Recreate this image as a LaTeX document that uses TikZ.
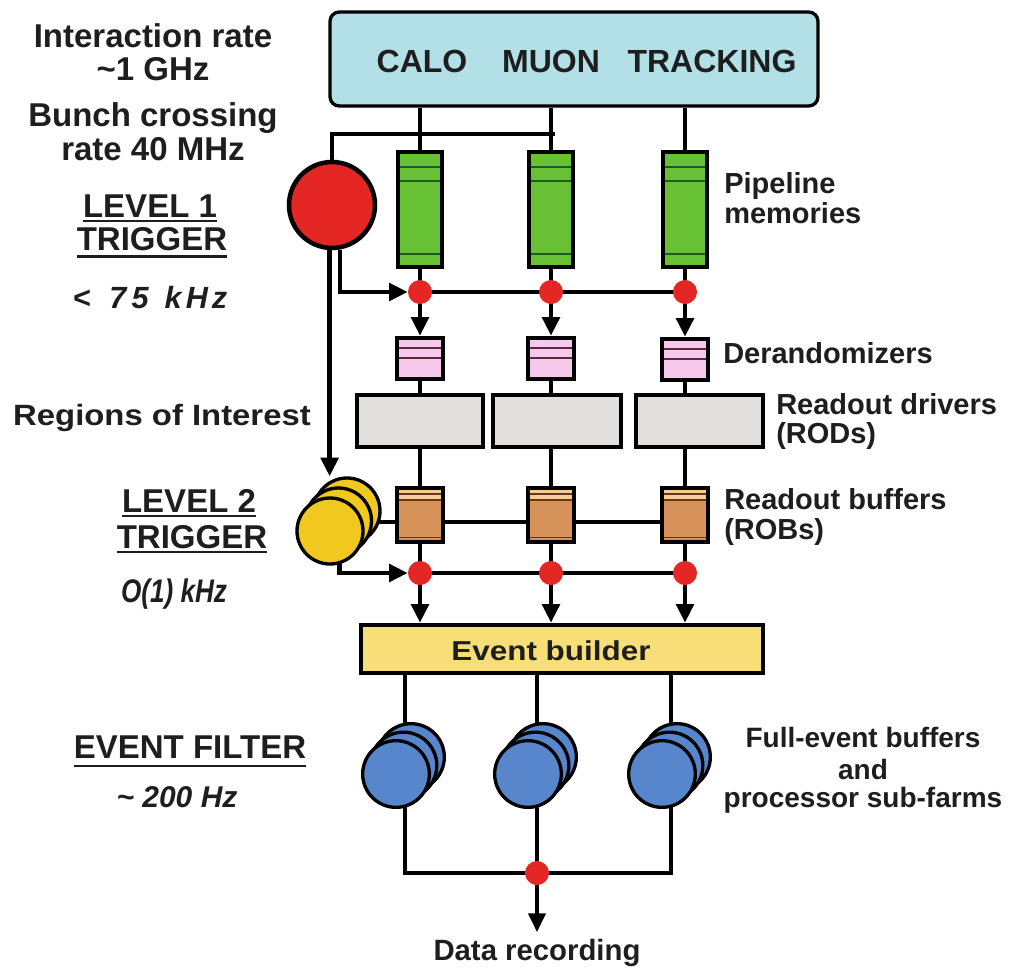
\documentclass[tikz,border=0pt]{standalone}
\usepackage{fontspec}
\usepackage{graphicx}
\setmainfont{Liberation Sans}
\usetikzlibrary{arrows.meta,backgrounds}
\definecolor{topc}{RGB}{178,224,230}
\definecolor{redc}{RGB}{228,38,36}
\definecolor{greenc}{RGB}{104,192,52}
\definecolor{dgreen}{RGB}{30,90,30}
\definecolor{pinkc}{RGB}{246,200,236}
\definecolor{pinkd}{RGB}{90,40,60}
\definecolor{greyc}{RGB}{226,223,223}
\definecolor{robc}{RGB}{214,146,88}
\definecolor{robl}{RGB}{245,205,150}
\definecolor{robd}{RGB}{110,55,20}
\definecolor{yelc}{RGB}{240,200,30}
\definecolor{ebc}{RGB}{248,222,120}
\definecolor{bluec}{RGB}{88,134,204}
\definecolor{txt}{RGB}{30,30,30}
\newcommand{\myfs}[1]{\fontsize{#1pt}{#1pt}\selectfont}
\def\ppbb{path picture bounding box}
\begin{document}
\begin{tikzpicture}[x=0.75pt,y=-0.75pt,line join=miter,
  wire/.style={line width=3.4pt},
  wirethin/.style={line width=2.4pt},
  arr/.style={line width=3.4pt,-{Triangle[length=14pt,width=13pt]}},
  arrthin/.style={line width=2.4pt,-{Triangle[length=14pt,width=13pt]}},
  lbl/.style={font=\bfseries\myfs{24.75}, text=txt, inner sep=0pt, anchor=base},
  ilbl/.style={font=\bfseries\itshape\myfs{22.5}, text=txt, inner sep=0pt, anchor=base},
  rlbl/.style={font=\bfseries\myfs{21.75}, text=txt, inner sep=0pt, anchor=base west},
  flbl/.style={font=\bfseries\myfs{21}, text=txt, inner sep=0pt, anchor=base},
  tlbl/.style={font=\bfseries\myfs{24}, text=txt, inner sep=0pt, anchor=base},
  uline/.style={line width=2.2pt, draw=txt},
  topbox/.style={draw, line width=2.5pt, fill=topc, rounded corners=7pt, minimum width=366pt, minimum height=70.5pt, inner sep=0pt},
  pipe/.style={draw, line width=3.4pt, fill=greenc, minimum width=33pt, minimum height=86.25pt, inner sep=0pt,
    path picture={
      \draw[dgreen,line width=1.2pt] ([yshift=-11.25pt]\ppbb.north west) -- ([yshift=-11.25pt]\ppbb.north east);
      \draw[dgreen,line width=1.2pt] ([yshift=-21.75pt]\ppbb.north west) -- ([yshift=-21.75pt]\ppbb.north east);
      \draw[dgreen,line width=1.2pt] ([yshift=9.75pt]\ppbb.south west) -- ([yshift=9.75pt]\ppbb.south east);
    }},
  l1circ/.style={circle, draw, line width=3.4pt, fill=redc, minimum size=64.5pt, inner sep=0pt},
  dot/.style={circle, fill=redc, minimum size=18pt, inner sep=0pt},
  derand/.style={draw, line width=3.4pt, fill=pinkc, minimum width=34.5pt, minimum height=30.75pt, inner sep=0pt,
    path picture={
      \draw[pinkd,line width=1.3pt] ([yshift=-7.5pt]\ppbb.north west) -- ([yshift=-7.5pt]\ppbb.north east);
      \draw[pinkd,line width=1.3pt] ([yshift=-15pt]\ppbb.north west) -- ([yshift=-15pt]\ppbb.north east);
    }},
  rod/.style={draw, line width=3.4pt, fill=greyc, minimum height=39pt, inner sep=0pt},
  rob/.style={draw, line width=3.4pt, fill=robc, minimum width=34.5pt, minimum height=40.5pt, inner sep=0pt,
    path picture={
      \fill[robl] (\ppbb.north west) rectangle ([yshift=-9.5pt]\ppbb.north east);
      \draw[robd,line width=1.1pt] ([yshift=-4.5pt]\ppbb.north west) -- ([yshift=-4.5pt]\ppbb.north east);
      \draw[robd,line width=1.1pt] ([yshift=-9pt]\ppbb.north west) -- ([yshift=-9pt]\ppbb.north east);
      \draw[robd,line width=1.1pt] ([yshift=3.5pt]\ppbb.south west) -- ([yshift=3.5pt]\ppbb.south east);
    }},
  ycirc/.style={circle, draw, line width=2.5pt, fill=yelc, minimum size=49.5pt, inner sep=0pt},
  bcirc/.style={circle, draw, line width=2.5pt, fill=bluec, minimum size=50pt, inner sep=0pt},
  ebox/.style={draw, line width=3.4pt, fill=ebc, minimum width=301.5pt, minimum height=36pt, inner sep=0pt}
]
\useasboundingbox (0,0) rectangle (1014,968);

% top detector box
\node[topbox] (t) at (574,59) {};
\node[tlbl] (calo) at (422,72) {CALO};
\node[tlbl] (muon) at (551,72) {MUON};
\node[tlbl] (trk) at (712,72) {TRACKING};

% pipelines
\node[pipe] (p1) at (420,209.5) {};
\node[pipe] (p2) at (551,209.5) {};
\node[pipe] (p3) at (685,209.5) {};

% level 1 trigger
\node[l1circ] (l1) at (332,205) {};

% dots row 1
\node[dot] (d1) at (420,292) {};
\node[dot] (d2) at (551,292) {};
\node[dot] (d3) at (685,292) {};

% derandomizers
\node[derand] (r1) at (420,358.5) {};
\node[derand] (r2) at (551,358.5) {};
\node[derand] (r3) at (685,359.5) {};

% RODs
\node[rod, minimum width=94.5pt] (o1) at (420,421) {};
\node[rod, minimum width=96pt] (o2) at (557,421) {};
\node[rod, minimum width=95.25pt] (o3) at (699.5,421) {};

% ROBs
\node[rob] (b1) at (420,515) {};
\node[rob] (b2) at (551,515) {};
\node[rob] (b3) at (685,515) {};

% level 2 trigger stack
\node[ycirc] (y3) at (347,511) {};
\node[ycirc] (y2) at (338.5,521) {};
\node[ycirc] (y1) at (330,531) {};

% dots row 2
\node[dot] (e1) at (420,573) {};
\node[dot] (e2) at (551,573) {};
\node[dot] (e3) at (685,573) {};

% event builder
\node[ebox] (eb) at (562,649) {};
\node[font=\bfseries\myfs{20.5}, text=txt, inner sep=0pt, anchor=base] (ebt) at (551,660) {\scalebox{1.15}[1]{Event builder}};

% event filter stacks
\foreach \n/\fx in {1/396,2/528,3/662}{
  \node[bcirc] (s\n c) at (\fx+15,757) {};
  \node[bcirc] (s\n b) at (\fx+7.5,765.5) {};
  \node[bcirc] (s\n a) at (\fx,774) {};
}
\coordinate (f1) at (405,873);
\coordinate (f2) at (537,873);
\coordinate (f3) at (671,873);
\node[dot] (g) at (537,873) {};
\coordinate (drtip) at (537,932);

% connectors
\begin{scope}[on background layer]
\fill[white] (0,0) rectangle (1014,968);
\draw[wire] (t.south -| p1.north) -- (p1.north);
\draw[wire] (t.south -| p2.north) -- (p2.north);
\draw[wire] (t.south -| p3.north) -- (p3.north);
\coordinate (h1) at (555,134);
\draw[wire] (h1) -- (h1 -| l1.north) -- (l1.north);
\draw[wire] (p1.south) -- (d1.center);
\draw[wire] (p2.south) -- (d2.center);
\draw[wire] (p3.south) -- (d3.center);
\draw[wire] (d1.center) -- (d3.center);
\draw[arr] (l1.-80) |- (d1.west);
\draw[arr] (l1.-93) -- (l1.-93 |- y3.north);
\draw[arr] (d1.center) -- (r1.north);
\draw[arr] (d2.center) -- (r2.north);
\draw[arr] (d3.center) -- (r3.north);
\draw[wire] (r1.south) -- (r1.south |- o1.north);
\draw[wire] (r2.south) -- (r2.south |- o2.north);
\draw[wire] (r3.south) -- (r3.south |- o3.north);
\draw[wire] (b1.north |- o1.south) -- (b1.north);
\draw[wire] (b2.north |- o2.south) -- (b2.north);
\draw[wire] (b3.north |- o3.south) -- (b3.north);
\draw[wire] (y2.center |- b1.center) ++(0,7) -- ([yshift=-5.25pt]b3.center);
\draw[wire] (b1.south) -- (e1.center);
\draw[wire] (b2.south) -- (e2.center);
\draw[wire] (b3.south) -- (e3.center);
\draw[wire] (e1.center) -- (e3.center);
\draw[arr] (y1.-74) |- (e1.west);
\draw[arr] (e1.center) -- (e1.center |- eb.north);
\draw[arr] (e2.center) -- (e2.center |- eb.north);
\draw[arr] (e3.center) -- (e3.center |- eb.north);
\draw[wirethin] (eb.south -| f1) -- (f1) -- (f3) -- (eb.south -| f3);
\draw[wirethin] (eb.south -| f2) -- (g.center);
\draw[arrthin] (g.center) -- (drtip);
\end{scope}

% left labels
\node[lbl] (ir) at (153,47) {Interaction rate};
\node[lbl] (ghz) at (153,80) {\textasciitilde1 GHz};
\node[lbl] (bc) at (153,126) {Bunch crossing};
\node[lbl] (r40) at (153,160) {rate 40 MHz};
\node[lbl] (lv1) at (150,217) {LEVEL 1};
\node[lbl] (tr1) at (152,250) {TRIGGER};
\draw[uline] ([yshift=-3pt]lv1.base west) -- ([yshift=-3pt]lv1.base east);
\draw[uline] ([yshift=-5pt]tr1.base west) -- ([yshift=-5pt]tr1.base east);
\node[ilbl, font=\bfseries\itshape\myfs{23}] (k75) at (150,308) {<\kern14pt 7\kern4pt 5\kern12pt k\kern3pt H\kern3pt z};
\node[lbl, font=\bfseries\myfs{22}] (roi) at (162,425) {\scalebox{1.12}[1]{Regions of Interest}};
\node[lbl] (lv2) at (189,512) {LEVEL 2};
\node[lbl] (tr2) at (192,548) {TRIGGER};
\draw[uline] ([yshift=-3pt]lv2.base west) -- ([yshift=-3pt]lv2.base east);
\draw[uline] ([yshift=-3pt]tr2.base west) -- ([yshift=-3pt]tr2.base east);
\node[ilbl, font=\bfseries\itshape\myfs{24.5}] (o1k) at (174,602) {\scalebox{0.8}[1]{O(1) kHz}};
\node[lbl] (ef) at (190,758) {EVENT FILTER};
\draw[uline] ([yshift=-6pt]ef.base west) -- ([yshift=-6pt]ef.base east);
\node[ilbl] (h200) at (177,807) {\textasciitilde{} 200 Hz};

% right labels
\node[rlbl] (pm1) at (724,193) {Pipeline};
\node[rlbl] (pm2) at (724,223) {memories};
\node[rlbl] (der) at (723,363) {Derandomizers};
\node[rlbl] (rd1) at (776,414) {Readout drivers};
\node[rlbl] (rd2) at (776,443) {(RODs)};
\node[rlbl] (rb1) at (724,509) {Readout buffers};
\node[rlbl] (rb2) at (724,539) {(ROBs)};
\node[flbl] (fe1) at (863,747) {Full-event buffers};
\node[flbl] (fe2) at (863,779) {and};
\node[flbl] (fe3) at (863,807) {processor sub-farms};
\node[flbl, font=\bfseries\myfs{22}] (dr) at (537,960) {Data recording};
\end{tikzpicture}
\end{document}
